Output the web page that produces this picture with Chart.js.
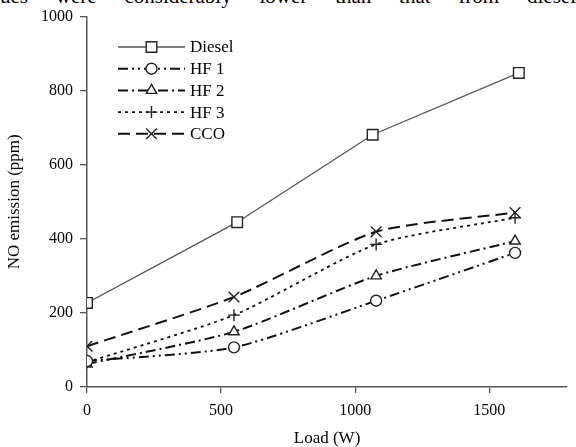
<!DOCTYPE html>
<html>
<head>
<meta charset="utf-8">
<script src="https://cdn.jsdelivr.net/npm/chart.js@4/dist/chart.umd.min.js"></script>
<style>
  body { margin: 0; background: #fff; }
  #wrap { position: relative; width: 576px; height: 447px; overflow: hidden; }
  #topText {
    position: absolute; left: 0; top: -16px; width: 576px;
    font: 21px "Liberation Serif", serif; color: #000;
    white-space: nowrap;
    display: flex; justify-content: space-between;
  }
  canvas { position: absolute; left: 0; top: 0; }
</style>
</head>
<body>
<div id="wrap">
  <div id="topText"><span>ues</span><span>were</span><span>considerably</span><span>lower</span><span>than</span><span>that</span><span>from</span><span>diesel</span></div>
  <canvas id="noChart" width="576" height="447"></canvas>
</div>
<script>
// Carga del motor (W)
const dieselLoad = [0, 560, 1065, 1610];
const blendLoad = [0, 548, 1078, 1596];

// Emisión de NO (ppm)
const diesel = [227, 445, 681, 848];
const hf1 = [70, 107, 233, 362];
const hf2 = [62, 149, 300, 394];
const hf3 = [67, 194, 385, 457];
const cco = [110, 243, 419, 471];

const seriesNames = ['Diesel', 'HF 1', 'HF 2', 'HF 3', 'CCO'];
const xTicks = [0, 500, 1000, 1500];
const yTicks = [0, 200, 400, 600, 800, 1000];

const serif = '"Liberation Serif", "Times New Roman", serif';

function toPoints(xs, ys) {
    return xs.map((x, i) => ({ x: x, y: ys[i] }));
}

function lineSet(label, xs, ys, style) {
    return Object.assign({
        label: label,
        data: toPoints(xs, ys),
        borderColor: '#111',
        borderWidth: 2,
        pointBackgroundColor: '#fff',
        pointBorderColor: '#222',
        pointBorderWidth: 1.4,
        pointRadius: 5.5,
        tension: 0.22,
        fill: false
    }, style);
}

const datasets = [
    lineSet(seriesNames[1], blendLoad, hf1, { borderDash: [10, 4, 2, 4, 2, 4], pointStyle: 'circle', pointRadius: 5.5 }),
    lineSet(seriesNames[2], blendLoad, hf2, { borderDash: [10, 4, 2, 4], pointStyle: 'triangle', pointRadius: 6 }),
    lineSet(seriesNames[3], blendLoad, hf3, { borderDash: [3, 4], borderWidth: 1.8, pointStyle: 'cross', pointRadius: 6 }),
    lineSet(seriesNames[4], blendLoad, cco, { borderDash: [12, 6], pointStyle: 'crossRot', pointRadius: 7.5 }),
    lineSet(seriesNames[0], dieselLoad, diesel, { borderColor: '#555', borderWidth: 1.3, pointStyle: 'rect', pointRadius: 7.5, tension: 0 })
];

// Leyenda dentro del área: línea de muestra con el marcador en medio
function drawMarker(ctx, style, x, y, r) {
    ctx.beginPath();
    if (style === 'circle') {
        ctx.arc(x, y, r, 0, Math.PI * 2);
        ctx.fill(); ctx.stroke();
    } else if (style === 'rect') {
        const s = Math.SQRT1_2 * r;
        ctx.rect(x - s, y - s, 2 * s, 2 * s);
        ctx.fill(); ctx.stroke();
    } else if (style === 'triangle') {
        const side = 3 * r / Math.sqrt(3);
        const h = side * Math.sqrt(3) / 2;
        ctx.moveTo(x - side / 2, y + h / 3);
        ctx.lineTo(x + side / 2, y + h / 3);
        ctx.lineTo(x, y - 2 * h / 3);
        ctx.closePath();
        ctx.fill(); ctx.stroke();
    } else if (style === 'cross') {
        ctx.moveTo(x, y - r); ctx.lineTo(x, y + r);
        ctx.moveTo(x - r, y); ctx.lineTo(x + r, y);
        ctx.stroke();
    } else if (style === 'crossRot') {
        const d = Math.SQRT1_2 * r;
        ctx.moveTo(x - d, y - d); ctx.lineTo(x + d, y + d);
        ctx.moveTo(x + d, y - d); ctx.lineTo(x - d, y + d);
        ctx.stroke();
    }
}

const insideLegend = {
    id: 'insideLegend',
    afterDraw(chart) {
        const ctx = chart.ctx;
        const order = [4, 0, 1, 2, 3];
        const x0 = 118, x1 = 185, top = 47, step = 21.7;
        ctx.save();
        order.forEach((idx, row) => {
            const ds = chart.data.datasets[idx];
            const y = top + row * step;
            ctx.strokeStyle = ds.borderColor;
            ctx.lineWidth = ds.borderWidth;
            ctx.setLineDash(ds.borderDash || []);
            ctx.beginPath();
            ctx.moveTo(x0, y);
            ctx.lineTo(x1, y);
            ctx.stroke();
            ctx.setLineDash([]);
            ctx.fillStyle = ds.pointBackgroundColor;
            ctx.strokeStyle = ds.pointBorderColor;
            ctx.lineWidth = ds.pointBorderWidth;
            drawMarker(ctx, ds.pointStyle, (x0 + x1) / 2, y, ds.pointRadius);
            ctx.fillStyle = '#000';
            ctx.font = '17px ' + serif;
            ctx.textBaseline = 'middle';
            ctx.fillText(ds.label, x1 + 5, y + 1);
        });
        ctx.restore();
    }
};

new Chart(document.getElementById('noChart').getContext('2d'), {
    type: 'line',
    data: { datasets: datasets },
    options: {
        responsive: false,
        animation: false,
        layout: { padding: { top: 16, left: 0, right: 0, bottom: 0 } },
        plugins: {
            legend: { display: false },
            tooltip: { enabled: false }
        },
        scales: {
            x: {
                type: 'linear',
                min: 0,
                max: 1790,
                afterFit: s => { s.height = 60; },
                afterBuildTicks: s => { s.ticks = xTicks.map(v => ({ value: v })); },
                grid: { drawOnChartArea: false, tickLength: 6, color: '#555', lineWidth: 1.3 },
                border: { color: '#555', width: 1.5 },
                ticks: { color: '#000', padding: 8, maxRotation: 0, callback: v => String(v), font: { family: serif, size: 16 } },
                title: { display: true, text: 'Load (W)', color: '#000', padding: { top: 0, bottom: 0 }, font: { family: serif, size: 17, lineHeight: 1 } }
            },
            y: {
                min: 0,
                max: 1000,
                afterFit: s => { s.width = 87; },
                afterBuildTicks: s => { s.ticks = yTicks.map(v => ({ value: v })); },
                grid: { drawOnChartArea: false, tickLength: 7, color: '#555', lineWidth: 1.3 },
                border: { color: '#555', width: 1.5 },
                ticks: { color: '#000', padding: 7, callback: v => String(v), font: { family: serif, size: 16 } },
                title: { display: true, text: 'NO emission (ppm)', color: '#000', padding: { top: 6, bottom: 0 }, font: { family: serif, size: 17, lineHeight: 1 } }
            }
        }
    },
    plugins: [insideLegend]
});
</script>
</body>
</html>
